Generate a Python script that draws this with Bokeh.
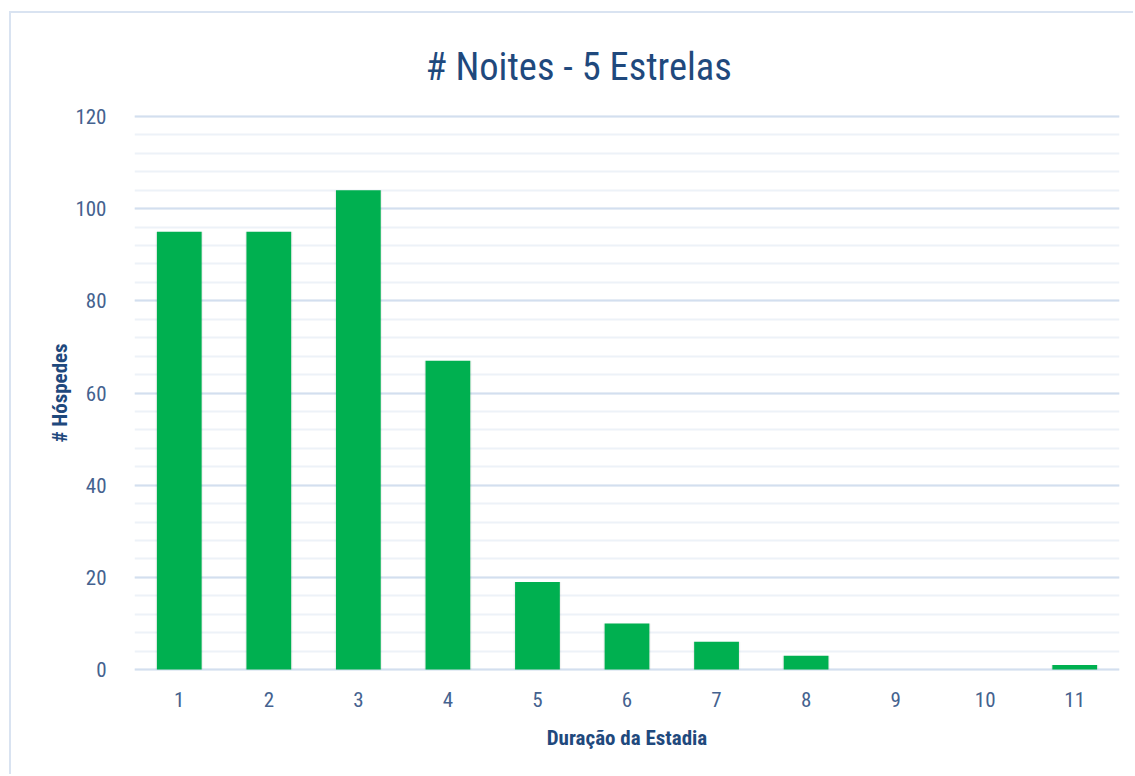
from bokeh.plotting import figure
from bokeh.models import FixedTicker, Title
from bokeh.embed import file_html
from bokeh.resources import INLINE

categories = ["1", "2", "3", "4", "5", "6", "7", "8", "9", "10", "11"]
hospedes = [95, 95, 104, 67, 19, 10, 6, 3, 0, 0, 1]
y_ticks = [0, 20, 40, 60, 80, 100, 120]
y_minor = [v for v in range(0, 121, 4)]
title_text = "# Noites - 5 Estrelas"

FONT = "Liberation Sans Narrow, Arial Narrow, Roboto Condensed, sans-serif"
TITLE_C = "#1F497D"
TICK_C = "#44628F"

p = figure(x_range=categories, y_range=(-0.43, 120.43), width=1124, height=763,
           output_backend="svg", toolbar_location=None,
           min_border_left=123, min_border_right=16, min_border_top=101, min_border_bottom=105)
p.styles = {"margin-left": "9px", "margin-top": "11px",
            "border-left": "2px solid #D9E3F1", "border-top": "2px solid #D9E3F1"}

p.outline_line_color = None
p.background_fill_color = "white"
p.border_fill_color = "white"

# subtle shadow and bars
p.vbar(x=categories, top=hospedes, width=0.53, bottom=0, fill_color="#000000",
       fill_alpha=0.05, line_color=None)
p.vbar(x=categories, top=hospedes, width=0.5, fill_color="#00B050", line_color=None)

t = Title(text=title_text, align="left", offset=291,
          text_font=FONT, text_font_size="38.5px", text_font_style="normal",
          text_color=TITLE_C, standoff=52)
p.add_layout(t, "above")

p.yaxis.ticker = FixedTicker(ticks=y_ticks, minor_ticks=y_minor)
p.yaxis.axis_line_color = None
p.yaxis.major_tick_line_color = None
p.yaxis.minor_tick_line_color = None
p.yaxis.major_label_text_font = FONT
p.yaxis.major_label_text_font_size = "21px"
p.yaxis.major_label_text_color = TICK_C
p.yaxis.major_label_standoff = 22
p.yaxis.axis_label = "# Hóspedes"
p.yaxis.axis_label_text_font = FONT
p.yaxis.axis_label_text_font_size = "21px"
p.yaxis.axis_label_text_font_style = "bold"
p.yaxis.axis_label_text_color = TITLE_C
p.yaxis.axis_label_standoff = 0

p.xaxis.axis_line_color = None
p.xaxis.major_tick_line_color = None
p.xaxis.minor_tick_line_color = None
p.xaxis.major_tick_out = 0
p.xaxis.major_label_text_font = FONT
p.xaxis.major_label_text_font_size = "21px"
p.xaxis.major_label_text_color = TICK_C
p.xaxis.major_label_standoff = 20
p.xaxis.axis_label = "Duração da Estadia"
p.xaxis.axis_label_text_font = FONT
p.xaxis.axis_label_text_font_size = "21px"
p.xaxis.axis_label_text_font_style = "bold"
p.xaxis.axis_label_text_color = TITLE_C
p.xaxis.axis_label_standoff = 16

p.xgrid.grid_line_color = None
p.ygrid.grid_line_color = "#D3DFEF"
p.ygrid.grid_line_width = 2
p.ygrid.minor_grid_line_color = "#EDF2F8"
p.ygrid.minor_grid_line_width = 2
p.ygrid.level = "underlay"

open("out.html", "w").write(file_html(p, INLINE))
